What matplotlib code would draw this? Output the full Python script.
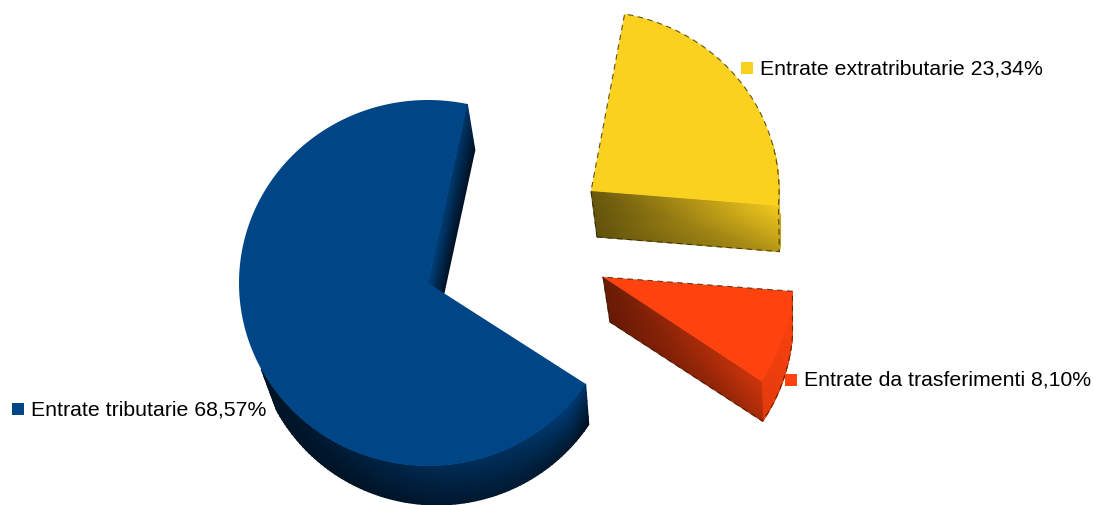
import numpy as np
from matplotlib import pyplot as plt
from matplotlib.colors import LinearSegmentedColormap
from matplotlib.patches import Polygon, Rectangle

# counter-clockwise from the top of the blue slice
categories = ['Entrate tributarie', 'Entrate da trasferimenti', 'Entrate extratributarie']
percent = [68.57, 8.10, 23.34]
colors = ['#004586', '#FF420E', '#FBD120']

START_ANGLE = 79.7

# (cx, cy, rx, ry) of the top and bottom ellipses per slice, the perspective makes them differ
top_geom = [(428, 283, 189, 183), (603, 277, 190, 189), (591, 191, 188, 180)]
base_geom = [(437, 325.5, 182, 179.5), (610, 322, 183, 180), (597, 237, 183, 178)]
# blue corner sits a bit further right than the plain angle gives
angle_fix = [(-1.7, 0), (0, 0), (-0.4, 0)]

# label positions in pixels: marker left, marker middle y, text left
label_pos = [(12, 409, 31), (785, 379.5, 804), (741, 68, 760)]


def arc(geom, a1, a2, n=2):
    cx, cy, rx, ry = geom
    ang = np.radians(np.linspace(a1, a2, n))
    return cx + rx * np.cos(ang), cy - ry * np.sin(ang)


def shade_mesh(ax, xs, ys, shade, color):
    cmap = LinearSegmentedColormap.from_list('s', ['black', color])
    ax.pcolormesh(xs, ys, shade, cmap=cmap, vmin=0, vmax=1, shading='gouraud', zorder=ax.zcount)
    ax.zcount += 0.01


def wall_between(ax, top_a, top_b, base_a, base_b, corners, color):
    # flat cut face, corners are brightness at [[top_a, top_b], [base_a, base_b]]
    xs = np.array([[top_a[0], top_b[0]], [base_a[0], base_b[0]]])
    ys = np.array([[top_a[1], top_b[1]], [base_a[1], base_b[1]]])
    shade_mesh(ax, xs, ys, np.array(corners), color)


def outer_wall(ax, tg, bg, a1, a2, anchors, top_vals, base_vals, color):
    ang = np.linspace(a1, a2, 90)
    tx, ty = arc(tg, a1, a2, 90)
    bx, by = arc(bg, a1, a2, 90)
    depth = np.linspace(0, 1, 6)[:, None]
    xs = tx + (bx - tx) * depth
    ys = ty + (by - ty) * depth
    st = np.interp(ang, anchors, top_vals)
    sb = np.interp(ang, anchors, base_vals)
    shade_mesh(ax, xs, ys, st + (sb - st) * depth, color)


def rim(ax, xs, ys):
    # rough dark rim the original has around the silhouette
    ax.plot(xs, ys, color='#2a2000', lw=0.8, ls=(0, (5, 4)), alpha=0.75, zorder=ax.zcount)
    ax.zcount += 0.01


fig = plt.figure(figsize=(10.94, 5.05), dpi=100)
ax = fig.add_axes([0, 0, 1, 1])
ax.set_xlim(0, 1094)
ax.set_ylim(505, 0)
ax.axis('off')
ax.zcount = 1

# slice angles come from the values
edges = START_ANGLE + np.concatenate([[0], np.cumsum(percent)]) * 3.6 / (sum(percent) / 100)

for i, color in enumerate(colors):
    a1 = edges[i] + angle_fix[i][0]
    a2 = edges[i + 1] + angle_fix[i][1]
    tg, bg = top_geom[i], base_geom[i]
    apex_t, apex_b = tg[:2], bg[:2]
    t1 = [v[0] for v in arc(tg, a1, a1, 1)]
    b1 = [v[0] for v in arc(bg, a1, a1, 1)]

    if i == 0:
        outer_wall(ax, tg, bg, 208, a2, [208, 240, 270, 300, 318, 327],
                   [0.26, 0.42, 0.60, 0.72, 0.88, 0.75],
                   [0.30, 0.28, 0.34, 0.38, 0.34, 0.20], color)
        wall_between(ax, apex_t, t1, apex_b, b1, [[0.95, 0.80], [0.25, 0.25]], color)
    elif i == 1:
        outer_wall(ax, tg, bg, a1, a2, [a1, a2], [0.92, 1.0], [0.88, 0.98], color)
        wall_between(ax, apex_t, t1, apex_b, b1, [[0.42, 0.82], [0.40, 0.66]], color)
    else:
        outer_wall(ax, tg, bg, a1, a1 + 20, [a1, a1 + 20], [0.90, 0.9], [0.72, 0.9], color)
        wall_between(ax, apex_t, t1, apex_b, b1, [[0.42, 0.97], [0.38, 0.72]], color)

    # top face
    fx, fy = arc(tg, a1, a2, 200)
    face = np.column_stack([np.r_[tg[0], fx], np.r_[tg[1], fy]])
    ax.add_patch(Polygon(face, closed=True, fc=color, ec='none', zorder=ax.zcount))
    ax.zcount += 0.01

    if i == 1:
        # apex, far edge, outer arc of the base, back along the cut
        bx, by = arc(bg, a2, a1, 60)
        rim(ax, np.r_[apex_b[0], apex_t[0], fx[-1], bx, apex_b[0]],
            np.r_[apex_b[1], apex_t[1], fy[-1], by, apex_b[1]])
    elif i == 2:
        rim(ax, np.r_[apex_b[0], apex_t[0], fx[-1], fx[::-1], b1[0], apex_b[0]],
            np.r_[apex_b[1], apex_t[1], fy[-1], fy[::-1], b1[1], apex_b[1]])

for name, pct, color, pos in zip(categories, percent, colors, label_pos):
    ax.add_patch(Rectangle((pos[0], pos[1] - 6), 12, 12, fc=color, ec='none', zorder=20))
    label = f'{name} {pct:.2f}%'.replace('.', ',')
    ax.text(pos[2], pos[1] + 1, label, fontsize=15.3, family='Liberation Sans', color='black',
            va='center', ha='left', zorder=21)

plt.savefig('out.png', dpi=100)
